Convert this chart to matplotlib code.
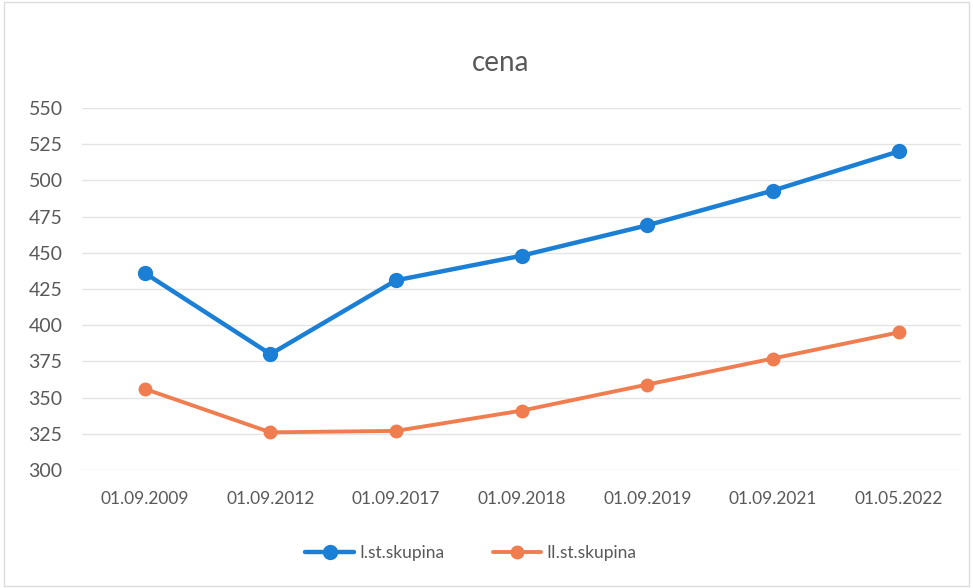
import matplotlib
matplotlib.use("Agg")
import matplotlib.pyplot as plt
from matplotlib.patches import Rectangle

dates = ["01.09.2009", "01.09.2012", "01.09.2017", "01.09.2018",
         "01.09.2019", "01.09.2021", "01.05.2022"]
skupina_1 = [436, 380, 431, 448, 469, 493, 520]
skupina_2 = [356, 326, 327, 341, 359, 377, 395]
series_names = ["I.st.skupina", "II.st.skupina"]
y_ticks = [300, 325, 350, 375, 400, 425, 450, 475, 500, 525, 550]

BLUE = "#1b7fd6"
ORANGE = "#f07d50"
TEXT = "#595959"

plt.rcParams["font.family"] = ["Lato", "DejaVu Sans"]

fig = plt.figure(figsize=(9.73, 5.88), dpi=100, facecolor="white")
ax = fig.add_axes([0.0843, 0.2007, 0.9037, 0.6156])

x = list(range(len(dates)))
ax.plot(x, skupina_1, color=BLUE, lw=3.2, marker="o", ms=10,
        label=series_names[0], solid_capstyle="round", zorder=3)
ax.plot(x, skupina_2, color=ORANGE, lw=2.8, marker="o", ms=9,
        label=series_names[1], solid_capstyle="round", zorder=3)

ax.set_xlim(-0.5, len(dates) - 0.5)
ax.set_ylim(300, 550)
ax.set_yticks(y_ticks)
ax.set_xticks(x)
ax.set_xticklabels(dates, fontsize=12.5, color=TEXT)
ax.tick_params(axis="y", labelsize=14, colors=TEXT, length=0, pad=14)
ax.tick_params(axis="x", length=0, pad=15)
ax.grid(axis="y", color="#e4e4e4", lw=1.0)
ax.set_axisbelow(True)
for s in ax.spines.values():
    s.set_visible(False)

fig.text(0.514, 0.893, "cena", ha="center", va="center", fontsize=20, color=TEXT)

leg = fig.legend(loc="center", bbox_to_anchor=(0.484, 0.06), ncol=2, frameon=False,
                 fontsize=12.5, handlelength=2.8, columnspacing=2.8, handletextpad=0.3)
for t in leg.get_texts():
    t.set_color(TEXT)

fig.patches.append(Rectangle((0.004, 0.004), 0.992, 0.992, transform=fig.transFigure,
                             fill=False, edgecolor="#dcdcdc", lw=1.0))

fig.savefig("out.png", dpi=100, facecolor="white")
